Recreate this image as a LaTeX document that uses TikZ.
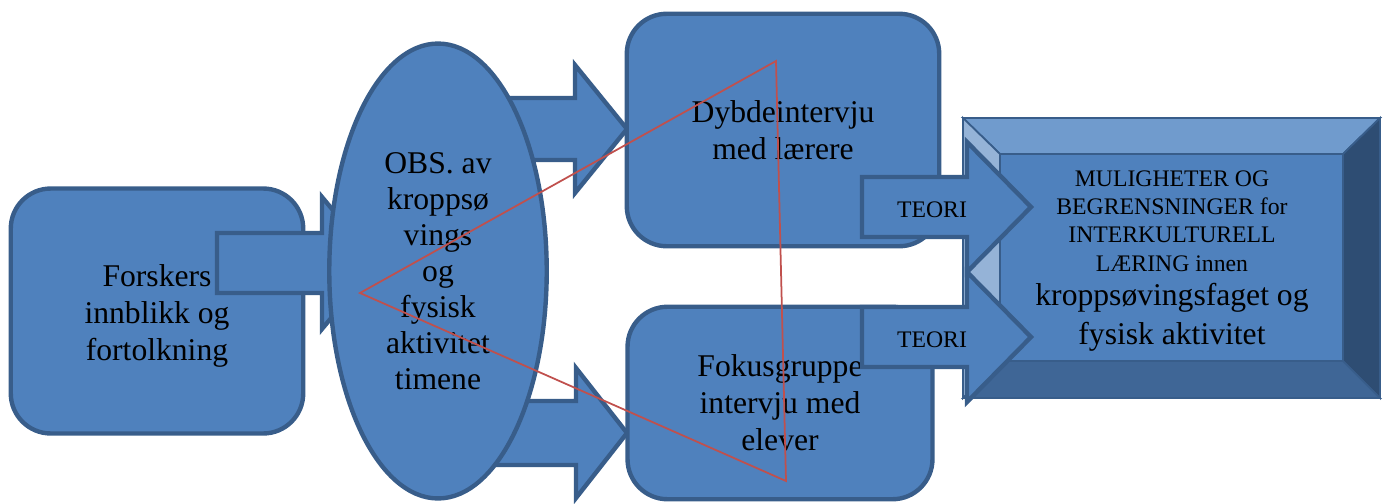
\documentclass[tikz,border=0pt]{standalone}
\usepackage{fontspec}
\setmainfont{Liberation Serif}
\usetikzlibrary{shapes, calc}

\definecolor{boxblue}{HTML}{4F81BD}
\definecolor{edgeblue}{HTML}{385D8A}
\definecolor{bevtop}{HTML}{709BCD}
\definecolor{bevleft}{HTML}{95B3D7}
\definecolor{bevright}{HTML}{2E4D73}
\definecolor{bevbottom}{HTML}{3F6696}
\definecolor{trired}{HTML}{C0504D}

\tikzset{
  roundnode/.style={draw=edgeblue, fill=boxblue, line width=2.5pt, rounded corners=0.8cm, align=center, font=\fontsize{18}{21}\selectfont},
  ovalnode/.style={draw=edgeblue, fill=boxblue, line width=2.5pt, ellipse, align=center, inner sep=0pt, font=\fontsize{18}{20.5}\selectfont},
  blockarrow/.style={draw=edgeblue, fill=boxblue, line width=2.5pt, line join=miter},
  bevelnode/.style={draw=edgeblue, fill=boxblue, line width=1.5pt, outer sep=0pt, minimum width=8.34cm, minimum height=5.6cm},
  bevelside/.style={draw=edgeblue, line width=1pt},
  resulttext/.style={align=center, inner sep=0pt, font=\fontsize{13.5}{16.2}\selectfont},
  teorinode/.style={font=\fontsize{13.5}{16}\selectfont, inner sep=0pt},
  triline/.style={draw=trired, line width=1pt}
}

\begin{document}
\begin{tikzpicture}[x=0.02cm, y=-0.02cm]
\useasboundingbox (0,0) rectangle (1387,504);

% Arrows from the observation to the interviews
\foreach \xa/\xb/\xt/\yc/\bh/\hh in {480/575/627/129/31/64, 480/576/627/433/32/65}
  \filldraw[blockarrow] (\xa,\yc-\bh) -- (\xb,\yc-\bh) -- (\xb,\yc-\hh) -- (\xt,\yc)
    -- (\xb,\yc+\hh) -- (\xb,\yc+\bh) -- (\xa,\yc+\bh) -- cycle;

% Nodes
\node[roundnode, minimum width=5.85cm, minimum height=4.9cm] (forsk) at (157,311) {\\[-3pt]Forskers\\innblikk og\\fortolkning};

\filldraw[blockarrow] (217,233) -- (322,233) -- (322,197) -- (377,263) -- (322,329) -- (322,293) -- (217,293) -- cycle;

\node[ovalnode, minimum width=4.35cm, minimum height=9.1cm] (obs) at (438,271) {OBS. av\\kroppsø\\vings\\og\\fysisk\\aktivitet\\timene};

\node[roundnode, minimum width=6.25cm, minimum height=4.65cm] (dyb) at (783,130) {Dybdeintervju\\med lærere};
\node[roundnode, minimum width=6.1cm, minimum height=3.85cm] (fok) at (780,403) {Fokusgruppe\\intervju med\\elever};

% Result box with bevel
\node[bevelnode] (res) at (1171.5,258) {};
\coordinate (fnw) at ($(res.north west)+(37,36)$);
\coordinate (fne) at ($(res.north east)+(-37,36)$);
\coordinate (fsw) at ($(res.south west)+(37,-37)$);
\coordinate (fse) at ($(res.south east)+(-37,-37)$);
\filldraw[bevelside, fill=bevtop] (res.north west) -- (res.north east) -- (fne) -- (fnw) -- cycle;
\filldraw[bevelside, fill=bevleft] (res.north west) -- (fnw) -- (fsw) -- (res.south west) -- cycle;
\filldraw[bevelside, fill=bevright] (res.north east) -- (res.south east) -- (fse) -- (fne) -- cycle;
\filldraw[bevelside, fill=bevbottom] (res.south west) -- (fsw) -- (fse) -- (res.south east) -- cycle;
\draw[edgeblue, line width=1.5pt] (res.north west) rectangle (res.south east);
\node[resulttext] (restext) at (1172,261) {MULIGHETER OG\\BEGRENSNINGER for\\INTERKULTURELL\\LÆRING innen\\[3pt]
  {\fontsize{18}{21}\selectfont kroppsøvingsfaget og}\\[5pt]{\fontsize{18}{21}\selectfont fysisk aktivitet}};

% Theory arrows
\foreach \i/\yc in {1/207, 2/337} {
  \filldraw[blockarrow] (862,\yc-30) -- (967,\yc-30) -- (967,\yc-65) -- (1031,\yc)
    -- (967,\yc+65) -- (967,\yc+30) -- (862,\yc+30) -- cycle;
  \node[teorinode] (teori\i) at (932,\yc+3) {TEORI};
}

% Triangulation
\coordinate (tri1) at (360,293);
\coordinate (tri2) at (776,61);
\coordinate (tri3) at (786,481);
\draw[triline] (tri1) -- (tri2) -- (tri3) -- cycle;

\end{tikzpicture}
\end{document}
